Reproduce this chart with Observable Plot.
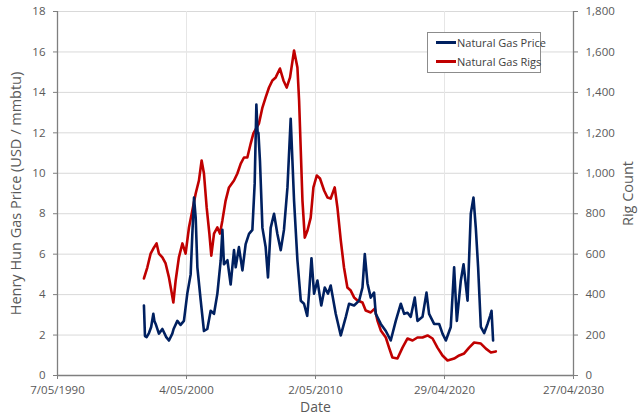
<!DOCTYPE html>
<html><head><meta charset="utf-8">
<script src="https://cdn.jsdelivr.net/npm/d3@7"></script>
<script src="https://cdn.jsdelivr.net/npm/@observablehq/plot@0.6"></script>
<style>
body{margin:0;background:#fff;font-family:"Open Sans",sans-serif;}
#wrap{position:relative;width:640px;height:418px;}
#legend{position:absolute;left:427px;top:32px;width:112px;height:39px;border:1px solid #8c8c8c;background:#fff;font-size:11px;color:#404040;}
#legend div{position:absolute;left:8px;display:flex;align-items:center;white-space:nowrap;}
#legend span.sw{display:inline-block;width:20px;height:2.5px;margin-right:1px;}
</style></head>
<body><div id="wrap"></div>
<script>
// Henry Hub price (USD/mmbtu): decimal year, value
const priceYears = [1997.04,1997.12,1997.25,1997.43,1997.6,1997.77,1997.85,1997.95,1998.2,1998.47,1998.77,1998.98,1999.24,1999.34,1999.63,1999.88,2000.14,2000.4,2000.66,2000.79,2000.92,2001.05,2001.18,2001.44,2001.69,2001.95,2002.21,2002.47,2002.73,2002.99,2003.12,2003.24,2003.51,2003.76,2004.02,2004.15,2004.4,2004.67,2004.92,2005.18,2005.44,2005.62,2005.75,2005.85,2005.91,2006.03,2006.22,2006.47,2006.65,2006.86,2007.12,2007.38,2007.64,2007.89,2008.16,2008.41,2008.67,2008.93,2009.19,2009.44,2009.69,2009.83,2010.02,2010.22,2010.48,2010.78,2011.05,2011.3,2011.51,2011.9,2012.29,2012.68,2012.93,2013.32,2013.71,2013.97,2014.15,2014.36,2014.61,2014.87,2015.0,2015.39,2015.78,2016.16,2016.55,2016.94,2017.2,2017.46,2017.71,2018.02,2018.23,2018.62,2018.93,2019.13,2019.52,2019.91,2020.17,2020.43,2020.81,2021.07,2021.28,2021.59,2021.8,2022.11,2022.36,2022.57,2022.75,2022.93,2023.14,2023.4,2023.66,2023.86,2023.97,2024.09];
const priceValues = [3.46,1.95,1.9,2.1,2.4,3.05,2.7,2.55,2.07,2.3,1.9,1.73,2.07,2.3,2.7,2.5,2.7,4.05,5.0,7.0,8.8,7.8,5.35,3.7,2.2,2.3,3.2,3.05,4.05,5.7,7.2,5.5,5.7,4.5,6.2,5.35,6.35,5.2,6.5,7.0,7.2,9.5,13.4,12.0,12.0,10.6,7.3,6.35,4.85,7.3,8.0,7.0,6.2,7.2,9.3,12.7,8.65,5.7,3.7,3.55,2.95,4.05,5.8,4.05,4.7,3.46,4.35,4.05,4.45,3.05,1.98,2.9,3.55,3.46,3.7,4.35,6.0,4.55,3.85,4.1,3.05,2.55,2.2,1.73,2.7,3.55,3.05,3.1,2.9,3.85,2.7,2.9,4.1,3.05,2.55,2.55,2.07,1.73,2.4,5.35,2.7,4.7,5.5,3.7,8.0,8.8,7.3,5.35,2.4,2.1,2.55,2.95,3.2,1.73];
// Natural gas rig count: decimal year, count
const rigYears = [1997.04,1997.3,1997.56,1997.82,1998.02,1998.2,1998.47,1998.72,1998.98,1999.16,1999.32,1999.5,1999.75,2000.02,2000.27,2000.53,2000.79,2001.05,2001.3,2001.51,2001.69,2001.9,2002.11,2002.26,2002.47,2002.73,2002.93,2003.12,2003.37,2003.63,2004.02,2004.28,2004.54,2004.79,2005.05,2005.31,2005.52,2005.78,2005.95,2006.22,2006.47,2006.73,2006.99,2007.25,2007.58,2007.85,2008.1,2008.36,2008.67,2008.93,2009.06,2009.19,2009.32,2009.5,2009.71,2009.96,2010.17,2010.43,2010.68,2011.0,2011.26,2011.51,2011.82,2012.03,2012.29,2012.54,2012.8,2013.06,2013.32,2013.58,2013.97,2014.22,2014.61,2014.92,2015.13,2015.39,2015.78,2016.03,2016.29,2016.68,2017.07,2017.46,2017.85,2018.23,2018.62,2019.01,2019.4,2019.78,2020.17,2020.56,2021.07,2021.46,2021.85,2022.23,2022.62,2023.14,2023.53,2023.92,2024.3];
const rigValues = [480,534,603,633,653,603,584,554,485,420,361,470,584,653,603,732,816,900,964,1063,999,831,702,593,702,732,702,767,865,930,964,999,1048,1078,1078,1147,1197,1227,1246,1325,1375,1424,1459,1474,1518,1459,1424,1474,1607,1523,1360,1113,865,682,717,781,930,989,974,915,880,875,930,831,668,534,435,420,386,371,361,321,312,331,272,223,188,138,89,84,138,183,173,188,188,198,183,138,99,74,84,99,109,138,163,158,133,114,119];
const xTickDates = ["1990-05-07","2000-05-04","2010-05-02","2020-04-29","2030-04-27"];
const priceTicks = [0,2,4,6,8,10,12,14,16,18];
const seriesNames = ["Natural Gas Price","Natural Gas Rigs"];
const seriesColors = ["#002060","#C00000"];

const toDate = y => { const yr = Math.floor(y); const s = Date.UTC(yr,0,1), e = Date.UTC(yr+1,0,1); return new Date(s + (y-yr)*(e-s)); };
const price = priceYears.map((y,i)=>({date:toDate(y), v:priceValues[i]}));
const rigs = rigYears.map((y,i)=>({date:toDate(y), v:rigValues[i]/100}));
const xt = xTickDates.map(s=>new Date(s+"T00:00:00Z"));
const fmtDate = d3.utcFormat("%-d/%m/%Y");
const axisColor = "#7f7f7f", textColor = "#595959";

const chart = Plot.plot({
  width:640, height:418,
  marginLeft:57, marginRight:67, marginTop:11, marginBottom:43,
  style:{fontFamily:"'Open Sans',sans-serif", fontSize:"11px", color:textColor, background:"#fff"},
  x:{type:"utc", domain:[xt[0], xt[xt.length-1]]},
  y:{domain:[0,18]},
  marks:[
    Plot.gridY(priceTicks,{stroke:"#d9d9d9", strokeOpacity:1}),
    Plot.gridX(xt,{stroke:"#e6e6e6", strokeOpacity:1}),
    Plot.ruleY([0],{stroke:axisColor, strokeWidth:1.3}),
    Plot.ruleX([xt[0], xt[xt.length-1]],{stroke:axisColor, strokeWidth:1.3}),
    Plot.axisX(xt,{tickFormat:fmtDate, tickSize:4, tickPadding:6, stroke:axisColor, label:null, fontSize:11.5}),
    Plot.axisX([],{label:"Date", labelAnchor:"center", labelArrow:"none", labelOffset:36, fontSize:14}),
    Plot.axisY(priceTicks,{anchor:"left", tickSize:4, tickPadding:8, stroke:axisColor, label:null, fontSize:11.5}),
    Plot.axisY([],{anchor:"left", label:"Henry Hun Gas Price (USD / mmbtu)", labelAnchor:"center", labelArrow:"none", labelOffset:47, fontSize:14.5}),
    Plot.axisY(priceTicks,{anchor:"right", tickSize:4, tickPadding:8, stroke:axisColor, tickFormat:d=>d3.format(",")(d*100), label:null, fontSize:11.5}),
    Plot.axisY([],{anchor:"right", label:"Rig Count", labelAnchor:"center", labelArrow:"none", labelOffset:59, fontSize:14.5}),
    Plot.lineY(rigs,{x:"date", y:"v", stroke:seriesColors[1], strokeWidth:2.6, curve:"linear"}),
    Plot.lineY(price,{x:"date", y:"v", stroke:seriesColors[0], strokeWidth:2.6, curve:"linear"})
  ]
});
const wrap = document.getElementById("wrap");
wrap.appendChild(chart);
const lg = document.createElement("div");
lg.id = "legend";
seriesNames.forEach((n,i)=>{
  const r = document.createElement("div");
  r.style.top = (i===0? 2 : 21) + "px";
  r.innerHTML = `<span class="sw" style="background:${seriesColors[i]}"></span><span>${n}</span>`;
  lg.appendChild(r);
});
wrap.appendChild(lg);
</script></body></html>
